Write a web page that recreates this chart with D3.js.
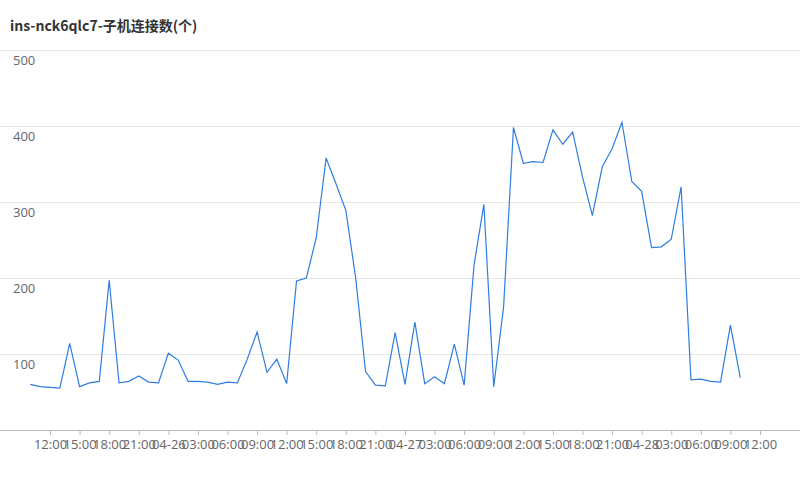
<!DOCTYPE html>
<html lang="zh">
<head>
    <meta charset="UTF-8">
    <title>ins-nck6qlc7-子机连接数(个)</title>
    <style>
        body { margin: 0; background: #fff; }
        svg { display: block; }
    </style>
</head>
<body>
    <script src="https://d3js.org/d3.v7.min.js"></script>
    <script>
        const width = 800,
              height = 480;

        const title = "ins-nck6qlc7-子机连接数(个)";

        // hourly samples, 04-25 10:00 .. 04-28 10:00
        const startTime = new Date(2023, 3, 25, 10);
        const values = [
            60, 57, 56, 55, 114, 57, 62, 64, 197, 62,
            64, 71, 63, 62, 101, 92, 64, 64, 63, 60,
            63, 62, 93, 129, 76, 93, 61, 196, 200, 253,
            358, 324, 289, 200, 77, 59, 58, 128, 60, 142,
            61, 70, 61, 113, 59, 217, 297, 57, 162, 398,
            351, 353, 352, 395, 376, 392, 333, 282, 346, 370,
            405, 327, 314, 240, 241, 251, 320, 66, 67, 64,
            63, 138, 69
        ];
        const times = values.map((v, i) => d3.timeHour.offset(startTime, i));
        const yTicks = [100, 200, 300, 400, 500];

        const svg = d3.select('body')
            .append('svg')
            .attr('width', width)
            .attr('height', height);

        // 3h ticks from 04-25 12:00 to 04-28 12:00
        const x = d3.scaleTime()
            .domain([new Date(2023, 3, 25, 12), new Date(2023, 3, 28, 12)])
            .range([50, 760]);

        const y = d3.scaleLinear()
            .domain([0, 500])
            .range([430, 50]);

        svg.append('text')
            .attr('x', 10)
            .attr('y', 31)
            .attr('font-family', '"Noto Sans CJK SC", "Noto Sans", sans-serif')
            .attr('font-size', '14px')
            .attr('font-weight', 'bold')
            .attr('fill', '#333')
            .text(title);

        // grid + y labels (label sits under its line)
        const grid = svg.append('g');
        grid.selectAll('line')
            .data(yTicks)
            .enter()
            .append('line')
            .attr('x1', 0)
            .attr('x2', width)
            .attr('y1', d => y(d) + 0.5)
            .attr('y2', d => y(d) + 0.5)
            .style('stroke', '#e6e6e6')
            .style('stroke-width', 1);

        grid.selectAll('text')
            .data(yTicks)
            .enter()
            .append('text')
            .attr('x', 13)
            .attr('y', d => y(d) + 15)
            .attr('font-family', '"Open Sans", "Noto Sans", sans-serif')
            .attr('font-size', '13px')
            .attr('fill', '#666')
            .text(d => d);

        const fmt = d => (d.getHours() === 0 ? d3.timeFormat('%m-%d')(d) : d3.timeFormat('%H:%M')(d));

        const xAxis = svg.append('g')
            .attr('transform', 'translate(0,430)')
            .call(d3.axisBottom(x)
                .ticks(d3.timeHour.every(3))
                .tickFormat(fmt)
                .tickSize(5)
                .tickPadding(5));

        xAxis.select('.domain')
            .attr('d', 'M0,0.5H' + width)
            .style('stroke', '#bbb');
        xAxis.selectAll('.tick line').style('stroke', '#bbb');
        xAxis.selectAll('.tick text')
            .attr('font-family', '"Open Sans", "Noto Sans", sans-serif')
            .attr('font-size', '13px')
            .attr('fill', '#666');

        const line = d3.line()
            .x((d, i) => x(times[i]))
            .y(d => y(d));

        svg.append('path')
            .datum(values)
            .attr('d', line)
            .style('fill', 'none')
            .style('stroke', '#2f7de1')
            .style('stroke-width', 1.2)
            .style('stroke-linejoin', 'miter');
    </script>
</body>
</html>
